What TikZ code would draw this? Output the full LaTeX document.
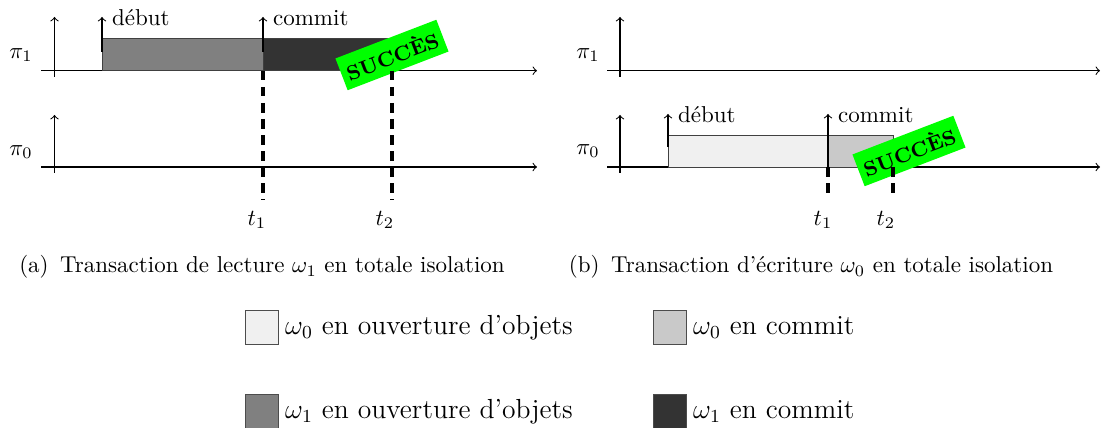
\documentclass[tikz,border=0pt]{standalone}
\usepackage{amsmath}
\definecolor{wzo}{gray}{0.94}
\definecolor{wzc}{gray}{0.79}
\definecolor{woo}{gray}{0.5}
\definecolor{woc}{gray}{0.2}
\definecolor{okgreen}{RGB}{0,255,0}
\tikzset{
  axis/.style={->, line width=0.45pt},
  tline/.style={line width=1.35pt, dash pattern=on 4.2pt off 2.8pt},
  phase/.style={draw=black!75, line width=0.4pt},
  succbox/.style={fill=okgreen, rotate=21, minimum width=47pt, minimum height=14.8pt, inner sep=1pt, font=\bfseries\small},
  legbox/.style={draw=black!70, line width=0.4pt, minimum width=14.4pt, minimum height=14.4pt, inner sep=0pt},
  legtext/.style={anchor=west, inner sep=2.5pt, font=\large},
  lbl/.style={inner sep=0pt}
}
\begin{document}
\begin{tikzpicture}[x=0.435pt,y=-0.435pt]
\useasboundingbox (0,0) rectangle (1102,428);
% ---------- left panel ----------
\coordinate (La1s) at (41,70.7); \coordinate (La1e) at (537,70.7);
\coordinate (La0s) at (41,167); \coordinate (La0e) at (537,167);
\coordinate (Lv1b) at (54.5,77); \coordinate (Lv1t) at (54.5,17);
\coordinate (Lv0b) at (54.5,173); \coordinate (Lv0t) at (54.5,115);
\draw[axis] (La1s) -- (La1e);
\draw[axis] (Lv1b) -- (Lv1t);
\draw[axis] (La0s) -- (La0e);
\draw[axis] (Lv0b) -- (Lv0t);
\node[lbl] (Lp1) at (21,55) {$\pi_1$};
\node[lbl] (Lp0) at (21,152) {$\pi_0$};
\filldraw[phase, fill=woo] (102,38) rectangle (263,70.7);
\filldraw[phase, fill=woc] (263,38) rectangle (392,70.7);
\node[succbox] (Lsucc) at (392,55) {SUCCÈS};
\coordinate (Ld1t) at (263,70.7); \coordinate (Ld1b) at (263,200);
\coordinate (Ld2t) at (392,70.7); \coordinate (Ld2b) at (392,200);
\draw[tline] (Ld1t) -- (Ld1b);
\draw[tline] (Ld2t) -- (Ld2b);
\node[lbl] (Lt1) at (257,220) {$t_1$};
\node[lbl] (Lt2) at (385,220) {$t_2$};
\coordinate (Lda) at (102,52); \coordinate (Ldb) at (102,17);
\coordinate (Lca) at (263,52); \coordinate (Lcb) at (263,17);
\draw[axis] (Lda) -- (Ldb);
\draw[axis] (Lca) -- (Lcb);
\node[anchor=base west] (Ldeb) at (104,26) {début};
\node[anchor=base west] (Lcom) at (265,26) {commit};
\node (capa) at (262,267) {(a)\enspace Transaction de lecture $\omega_1$ en totale isolation};
% ---------- right panel ----------
\coordinate (Ra1s) at (607,70.7); \coordinate (Ra1e) at (1100,70.7);
\coordinate (Ra0s) at (607,167); \coordinate (Ra0e) at (1100,167);
\coordinate (Rv1b) at (620,77); \coordinate (Rv1t) at (620,17);
\coordinate (Rv0b) at (620,173); \coordinate (Rv0t) at (620,115);
\draw[axis] (Ra1s) -- (Ra1e);
\draw[axis] (Rv1b) -- (Rv1t);
\draw[axis] (Ra0s) -- (Ra0e);
\draw[axis] (Rv0b) -- (Rv0t);
\node[lbl] (Rp1) at (588,55) {$\pi_1$};
\node[lbl] (Rp0) at (588,151) {$\pi_0$};
\filldraw[phase, fill=wzo] (668,135) rectangle (828,167);
\filldraw[phase, fill=wzc] (828,135) rectangle (893,167);
\node[succbox] (Rsucc) at (909,151) {SUCCÈS};
\coordinate (Rd1t) at (828,167); \coordinate (Rd1b) at (828,199);
\coordinate (Rd2t) at (893,167); \coordinate (Rd2b) at (893,199);
\draw[tline] (Rd1t) -- (Rd1b);
\draw[tline] (Rd2t) -- (Rd2b);
\node[lbl] (Rt1) at (823,220) {$t_1$};
\node[lbl] (Rt2) at (886,220) {$t_2$};
\coordinate (Rda) at (668,147); \coordinate (Rdb) at (668,114);
\coordinate (Rca) at (828,167); \coordinate (Rcb) at (828,114);
\draw[axis] (Rda) -- (Rdb);
\draw[axis] (Rca) -- (Rcb);
\node[anchor=base west] (Rdeb) at (670,123) {début};
\node[anchor=base west] (Rcom) at (830,123) {commit};
\node (capb) at (811,267) {(b)\enspace Transaction d'écriture $\omega_0$ en totale isolation};
% ---------- legend ----------
\node[legbox, fill=wzo] (k1) at (262,327.5) {};
\node[legtext] (k1t) at (k1.east) {$\omega_0$ en ouverture d'objets};
\node[legbox, fill=wzc] (k2) at (670,327.5) {};
\node[legtext] (k2t) at (k2.east) {$\omega_0$ en commit};
\node[legbox, fill=woo] (k3) at (262,411.5) {};
\node[legtext] (k3t) at (k3.east) {$\omega_1$ en ouverture d'objets};
\node[legbox, fill=woc] (k4) at (670,411.5) {};
\node[legtext] (k4t) at (k4.east) {$\omega_1$ en commit};
\end{tikzpicture}
\end{document}
